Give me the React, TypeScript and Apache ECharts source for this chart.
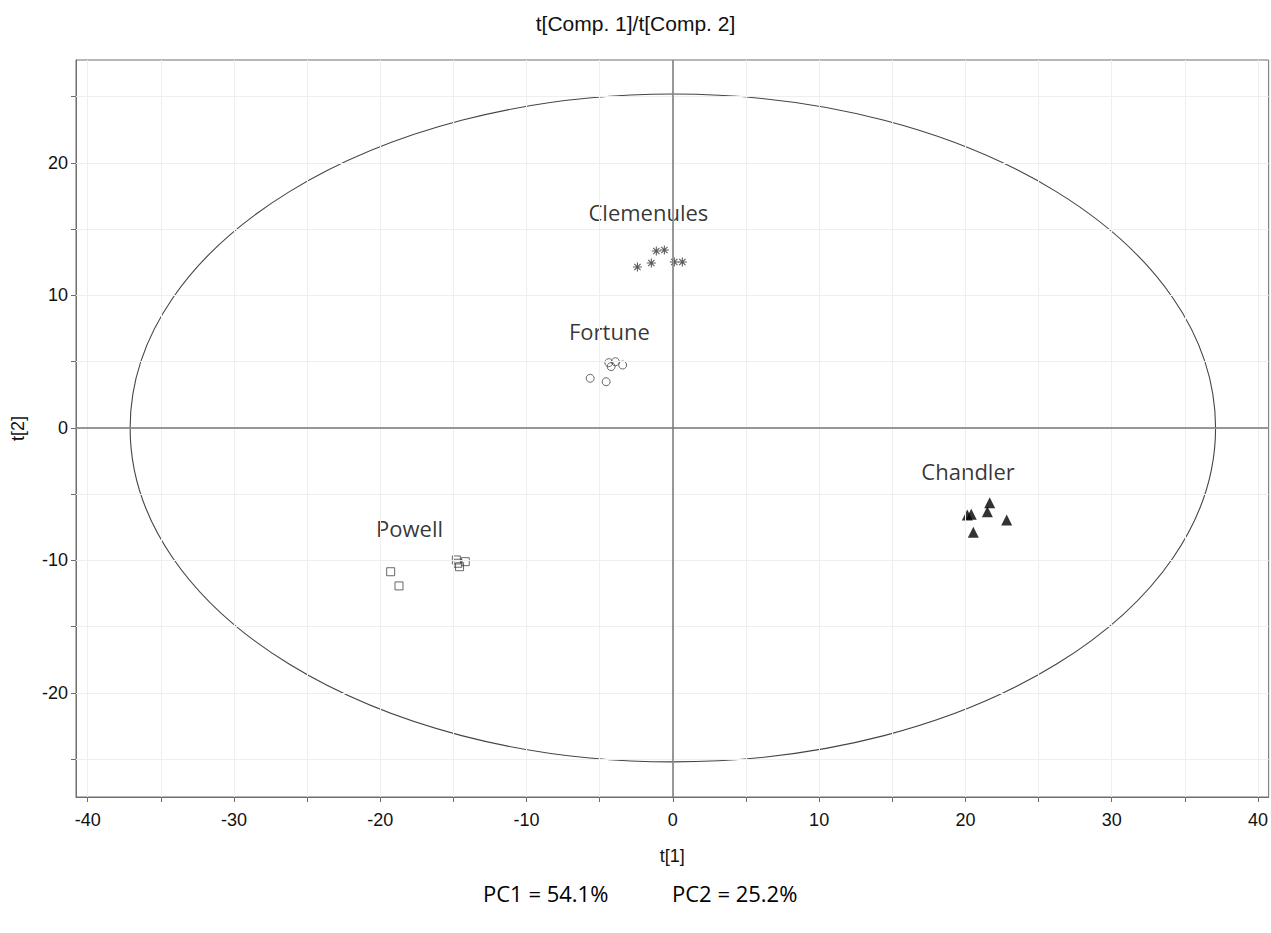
import React, { useEffect, useRef } from "react";
import * as echarts from "echarts";

const clemenules: number[][] = [
  [-2.42, 12.15], [-1.47, 12.45], [-1.13, 13.36], [-0.58, 13.43], [0.10, 12.53], [0.65, 12.53],
];
const fortune: number[][] = [
  [-5.65, 3.75], [-4.56, 3.49], [-4.38, 4.93], [-4.22, 4.63], [-3.93, 5.0], [-3.43, 4.75],
];
const powell: number[][] = [
  [-19.29, -10.85], [-18.72, -11.92], [-14.8, -9.96], [-14.69, -10.21], [-14.58, -10.47], [-14.19, -10.09],
];
const chandler: number[][] = [
  [20.13, -6.57], [20.4, -6.51], [21.66, -5.64], [21.5, -6.32], [22.82, -6.94], [20.54, -7.87],
];
const groupLabels: { name: string; coord: number[] }[] = [
  { name: "Clemenules", coord: [-1.67, 16.3] },
  { name: "Fortune", coord: [-4.34, 7.32] },
  { name: "Powell", coord: [-18.0, -7.55] },
  { name: "Chandler", coord: [20.18, -3.25] },
];
// Hotelling's T2 ellipse: centre x, centre y, semi-axis x, semi-axis y
const ellipse: number[][] = [[0, 0, 37.1, 25.2]];
const xTicks = [-40, -35, -30, -25, -20, -15, -10, -5, 0, 5, 10, 15, 20, 25, 30, 35, 40];
const xLabels = [-40, -30, -20, -10, 0, 10, 20, 30, 40];
const yTicks = [-25, -20, -15, -10, -5, 0, 5, 10, 15, 20, 25];
const yLabels = [-20, -10, 0, 10, 20];
const xRange = [-40.8, 40.73];
const yRange = [-27.85, 27.77];
const title = "t[Comp. 1]/t[Comp. 2]";
const xName = "t[1]";
const yName = "t[2]";
const footer = ["PC1 = 54.1%", "PC2 = 25.2%"];

const asterisk = "path://M0,5L10,5M5,0L5,10M1.5,1.5L8.5,8.5M1.5,8.5L8.5,1.5";

export default function App() {
  const ref = useRef<HTMLDivElement>(null);
  useEffect(() => {
    if (!ref.current) return;
    const chart = echarts.init(ref.current, undefined, { renderer: "svg" });
    const axisColor = "#6e6e6e";
    const labelFont = { color: "#111", fontSize: 18, fontFamily: "Liberation Sans, Arial, sans-serif" };
    const option: any = {
      animation: false,
      backgroundColor: "#fff",
      title: {
        text: title,
        left: "center",
        top: 8,
        textStyle: { ...labelFont, fontSize: 21, fontWeight: "normal" },
      },
      grid: {
        left: 76, top: 60, right: 1, bottom: 136,
        show: true, borderColor: axisColor, borderWidth: 1, backgroundColor: "transparent",
      },
      xAxis: {
        type: "value",
        min: xRange[0], max: xRange[1],
        name: xName, nameLocation: "middle", nameGap: 50,
        nameTextStyle: labelFont,
        axisLine: { show: true, onZero: false, lineStyle: { color: axisColor } },
        axisTick: { show: true, length: 5, customValues: xTicks, lineStyle: { color: axisColor } },
        axisLabel: { ...labelFont, margin: 14, customValues: xLabels },
        splitLine: { show: false },
      },
      yAxis: {
        type: "value",
        min: yRange[0], max: yRange[1],
        name: yName, nameLocation: "middle", nameGap: 49,
        nameTextStyle: labelFont,
        axisLine: { show: true, onZero: false, lineStyle: { color: axisColor } },
        axisTick: { show: true, length: 5, customValues: yTicks, lineStyle: { color: axisColor } },
        axisLabel: { ...labelFont, margin: 8, customValues: yLabels },
        splitLine: { show: false },
      },
      graphic: [
        {
          type: "text", left: 483, top: 882,
          style: { text: footer[0], font: "22px 'Open Sans', sans-serif", fill: "#000" },
        },
        {
          type: "text", left: 672, top: 882,
          style: { text: footer[1], font: "22px 'Open Sans', sans-serif", fill: "#000" },
        },
      ],
      series: [
        {
          type: "scatter",
          name: "grid",
          data: [],
          z: 0,
          silent: true,
          markLine: {
            silent: true,
            symbol: "none",
            label: { show: false },
            lineStyle: { color: "#efefef", type: "solid", width: 1 },
            data: [
              ...xTicks.map((v) => ({ xAxis: v })),
              ...yTicks.map((v) => ({ yAxis: v })),
            ],
          },
        },
        {
          type: "custom",
          name: "ellipse",
          data: ellipse,
          z: 1,
          silent: true,
          encode: { x: 0, y: 1 },
          renderItem: (params: any, api: any) => {
            const c = api.coord([api.value(0), api.value(1)]);
            const s = api.size([api.value(2), api.value(3)]);
            return {
              type: "ellipse",
              shape: { cx: c[0], cy: c[1], rx: s[0], ry: s[1] },
              style: { fill: "none", stroke: "#444", lineWidth: 1.1 },
            };
          },
          markLine: {
            silent: true,
            symbol: "none",
            label: { show: false },
            lineStyle: { color: "#777", type: "solid", width: 1.5 },
            data: [{ xAxis: 0 }, { yAxis: 0 }],
          },
        },
        {
          type: "scatter", name: "Clemenules", data: clemenules, z: 3,
          symbol: asterisk, symbolSize: 9,
          itemStyle: { color: "transparent", borderColor: "#333", borderWidth: 1.1 },
        },
        {
          type: "scatter", name: "Fortune", data: fortune, z: 3,
          symbol: "circle", symbolSize: 8,
          itemStyle: { color: "transparent", borderColor: "#444", borderWidth: 1 },
        },
        {
          type: "scatter", name: "Powell", data: powell, z: 3,
          symbol: "rect", symbolSize: 8,
          itemStyle: { color: "transparent", borderColor: "#444", borderWidth: 1 },
        },
        {
          type: "scatter", name: "Chandler", data: chandler, z: 3,
          symbol: "triangle", symbolSize: 11,
          itemStyle: { color: "#000" },
        },
        {
          type: "scatter", name: "labels", z: 4, silent: true,
          data: groupLabels.map((g) => ({ value: g.coord, name: g.name })),
          symbolSize: 1,
          itemStyle: { color: "transparent", borderWidth: 0 },
          label: {
            show: true, position: "inside",
            formatter: (p: any) => p.name,
            color: "#000", fontSize: 22, fontFamily: "'Open Sans', sans-serif",
          },
        },
      ],
    };
    chart.setOption(option);
    return () => chart.dispose();
  }, []);
  return (
    <div
      ref={ref}
      style={{ position: "fixed", left: 0, top: 0, width: 1271, height: 933, background: "#fff" }}
    />
  );
}
